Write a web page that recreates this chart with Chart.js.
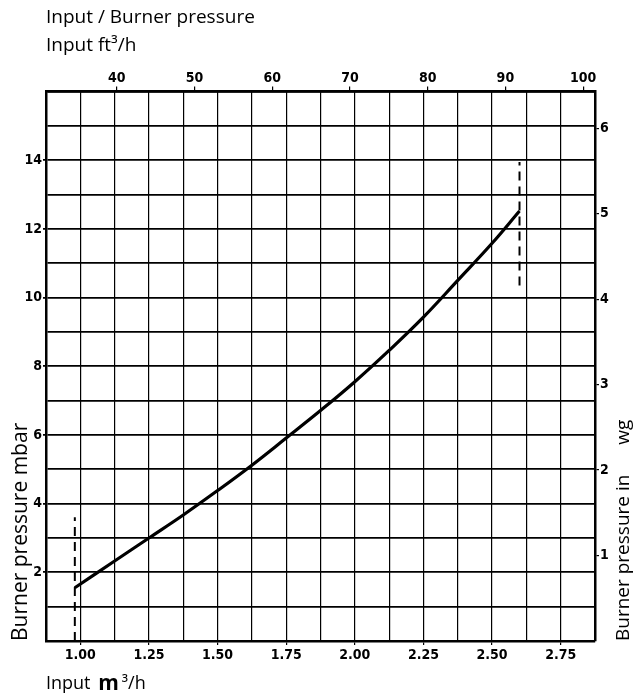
<!DOCTYPE html>
<html>
<head>
<meta charset="utf-8">
<title>Input / Burner pressure</title>
<script src="https://cdn.jsdelivr.net/npm/chart.js@4.4.1/dist/chart.umd.min.js"></script>
<style>
  html, body { margin: 0; padding: 0; background: #fff; }
  #wrap { width: 641px; height: 696px; }
</style>
</head>
<body>
<div id="wrap"><canvas id="burner" width="641" height="696"></canvas></div>
<script>
// gas rate (m3/h) against burner pressure (mbar)
const inputM3 = [0.98, 1.125, 1.25, 1.375, 1.5, 1.625, 1.75, 1.875, 2.0, 2.125, 2.25, 2.375, 2.5, 2.6];
const pressureMbar = [1.55, 2.33, 3.0, 3.67, 4.38, 5.12, 5.91, 6.71, 7.55, 8.46, 9.43, 10.5, 11.58, 12.52];

// min / max rate marks (dashed)
const limitInputs = [0.98, 2.6];
const limitLow = [0, 10.35];
const limitHigh = [3.6, 13.95];

// tick labels
const m3Labels = [1.00, 1.25, 1.50, 1.75, 2.00, 2.25, 2.50, 2.75];
const mbarLabels = [2, 4, 6, 8, 10, 12, 14];
const ft3Labels = [40, 50, 60, 70, 80, 90, 100];
const inwgLabels = [1, 2, 3, 4, 5, 6];

const FT3_PER_M3 = 35.3147;
const MBAR_PER_INWG = 2.4884;
const X_MIN = 0.875, X_MAX = 2.875;
const Y_MIN = 0, Y_MAX = 16;

const TEXT_FONT = '"Open Sans", "Noto Sans", sans-serif';

const isLabel = (list, v) => list.some(l => Math.abs(l - v) < 1e-6);

Chart.defaults.font.family = '"Liberation Sans Narrow", "DejaVu Sans Condensed", "Liberation Sans", sans-serif';
Chart.defaults.font.weight = 'bold';
Chart.defaults.font.size = 14;
Chart.defaults.color = '#000';

// headings and axis names drawn round the grid
const captions = {
  id: 'captions',
  afterDraw(chart) {
    const ctx = chart.ctx;
    const area = chart.chartArea;
    ctx.save();
    ctx.fillStyle = '#000';
    ctx.textBaseline = 'middle';
    ctx.textAlign = 'left';
    ctx.font = '19px ' + TEXT_FONT;
    ctx.fillText('Input / Burner pressure', area.left, 18);
    ctx.fillText('Input ft\u00B3/h', area.left, 46);

    // bottom caption with a bold m
    let x = area.left;
    const y = 684;
    ctx.font = '18px ' + TEXT_FONT;
    ctx.fillText('Input ', x, y);
    x += ctx.measureText('Input ').width + 3;
    ctx.font = 'bold 21px ' + TEXT_FONT;
    ctx.fillText('m', x, y);
    x += ctx.measureText('m').width + 3;
    ctx.font = '18px ' + TEXT_FONT;
    ctx.fillText('\u00B3/h', x, y);

    // side captions, both read upwards from the bottom of the grid
    ctx.save();
    ctx.translate(21, area.bottom);
    ctx.rotate(-Math.PI / 2);
    ctx.font = '21px ' + TEXT_FONT;
    ctx.fillText('Burner pressure mbar', 0, 0);
    ctx.restore();

    ctx.save();
    ctx.translate(624, area.bottom);
    ctx.rotate(-Math.PI / 2);
    ctx.font = '19px ' + TEXT_FONT;
    ctx.fillText('Burner pressure in', 0, 0);
    ctx.fillText('wg', ctx.measureText('Burner pressure in').width + 30, 0);
    ctx.restore();

    ctx.restore();
  }
};

const ctx = document.getElementById('burner').getContext('2d');
const chart = new Chart(ctx, {
  type: 'line',
  data: {
    datasets: [{
      data: inputM3.map((v, i) => ({x: v, y: pressureMbar[i]})),
      borderColor: '#000',
      borderWidth: 3.2,
      pointRadius: 0,
      tension: 0.4,
      fill: false
    }].concat(limitInputs.map((v, i) => ({
      data: [{x: v, y: limitLow[i]}, {x: v, y: limitHigh[i]}],
      borderColor: '#000',
      borderWidth: 2,
      borderDash: [9, 6],
      pointRadius: 0,
      fill: false
    })))
  },
  plugins: [captions],
  options: {
    responsive: false,
    animation: false,
    layout: { padding: 0 },
    plugins: {
      legend: { display: false },
      tooltip: { enabled: false }
    },
    scales: {
      x: {
        type: 'linear',
        position: 'bottom',
        min: X_MIN,
        max: X_MAX,
        ticks: {
          stepSize: 0.125,
          autoSkip: false,
          maxRotation: 0,
          padding: 2,
          callback: v => isLabel(m3Labels, v) ? v.toFixed(2) : ''
        },
        grid: {
          color: '#000',
          lineWidth: 1.2,
          tickLength: 4,
          tickColor: c => (c.tick && isLabel(m3Labels, c.tick.value)) ? '#000' : 'rgba(0,0,0,0)'
        },
        border: { color: '#000', width: 2.5 },
        afterFit: s => { s.height = 55; }
      },
      xTop: {
        type: 'linear',
        position: 'top',
        min: X_MIN * FT3_PER_M3,
        max: X_MAX * FT3_PER_M3,
        afterBuildTicks: s => { s.ticks = ft3Labels.map(v => ({value: v})); },
        ticks: { autoSkip: false, maxRotation: 0, padding: 0 },
        grid: { drawOnChartArea: false, color: '#000', lineWidth: 1.2, tickLength: 5 },
        border: { color: '#000', width: 2.5 },
        afterFit: s => { s.height = 91.5; }
      },
      y: {
        type: 'linear',
        position: 'left',
        min: Y_MIN,
        max: Y_MAX,
        ticks: {
          stepSize: 1,
          autoSkip: false,
          padding: 1,
          callback: v => isLabel(mbarLabels, v) ? String(v) : ''
        },
        grid: {
          color: '#000',
          lineWidth: 1.8,
          tickLength: 3,
          tickColor: c => (c.tick && isLabel(mbarLabels, c.tick.value)) ? '#000' : 'rgba(0,0,0,0)'
        },
        border: { color: '#000', width: 2.5 },
        afterFit: s => { s.width = 46; }
      },
      yRight: {
        type: 'linear',
        position: 'right',
        min: Y_MIN / MBAR_PER_INWG,
        max: Y_MAX / MBAR_PER_INWG,
        afterBuildTicks: s => { s.ticks = inwgLabels.map(v => ({value: v})); },
        ticks: { autoSkip: false, padding: 1 },
        grid: { drawOnChartArea: false, color: '#000', lineWidth: 1.2, tickLength: 4 },
        border: { color: '#000', width: 2.5 },
        afterFit: s => { s.width = 46; }
      }
    }
  }
});
</script>
</body>
</html>
